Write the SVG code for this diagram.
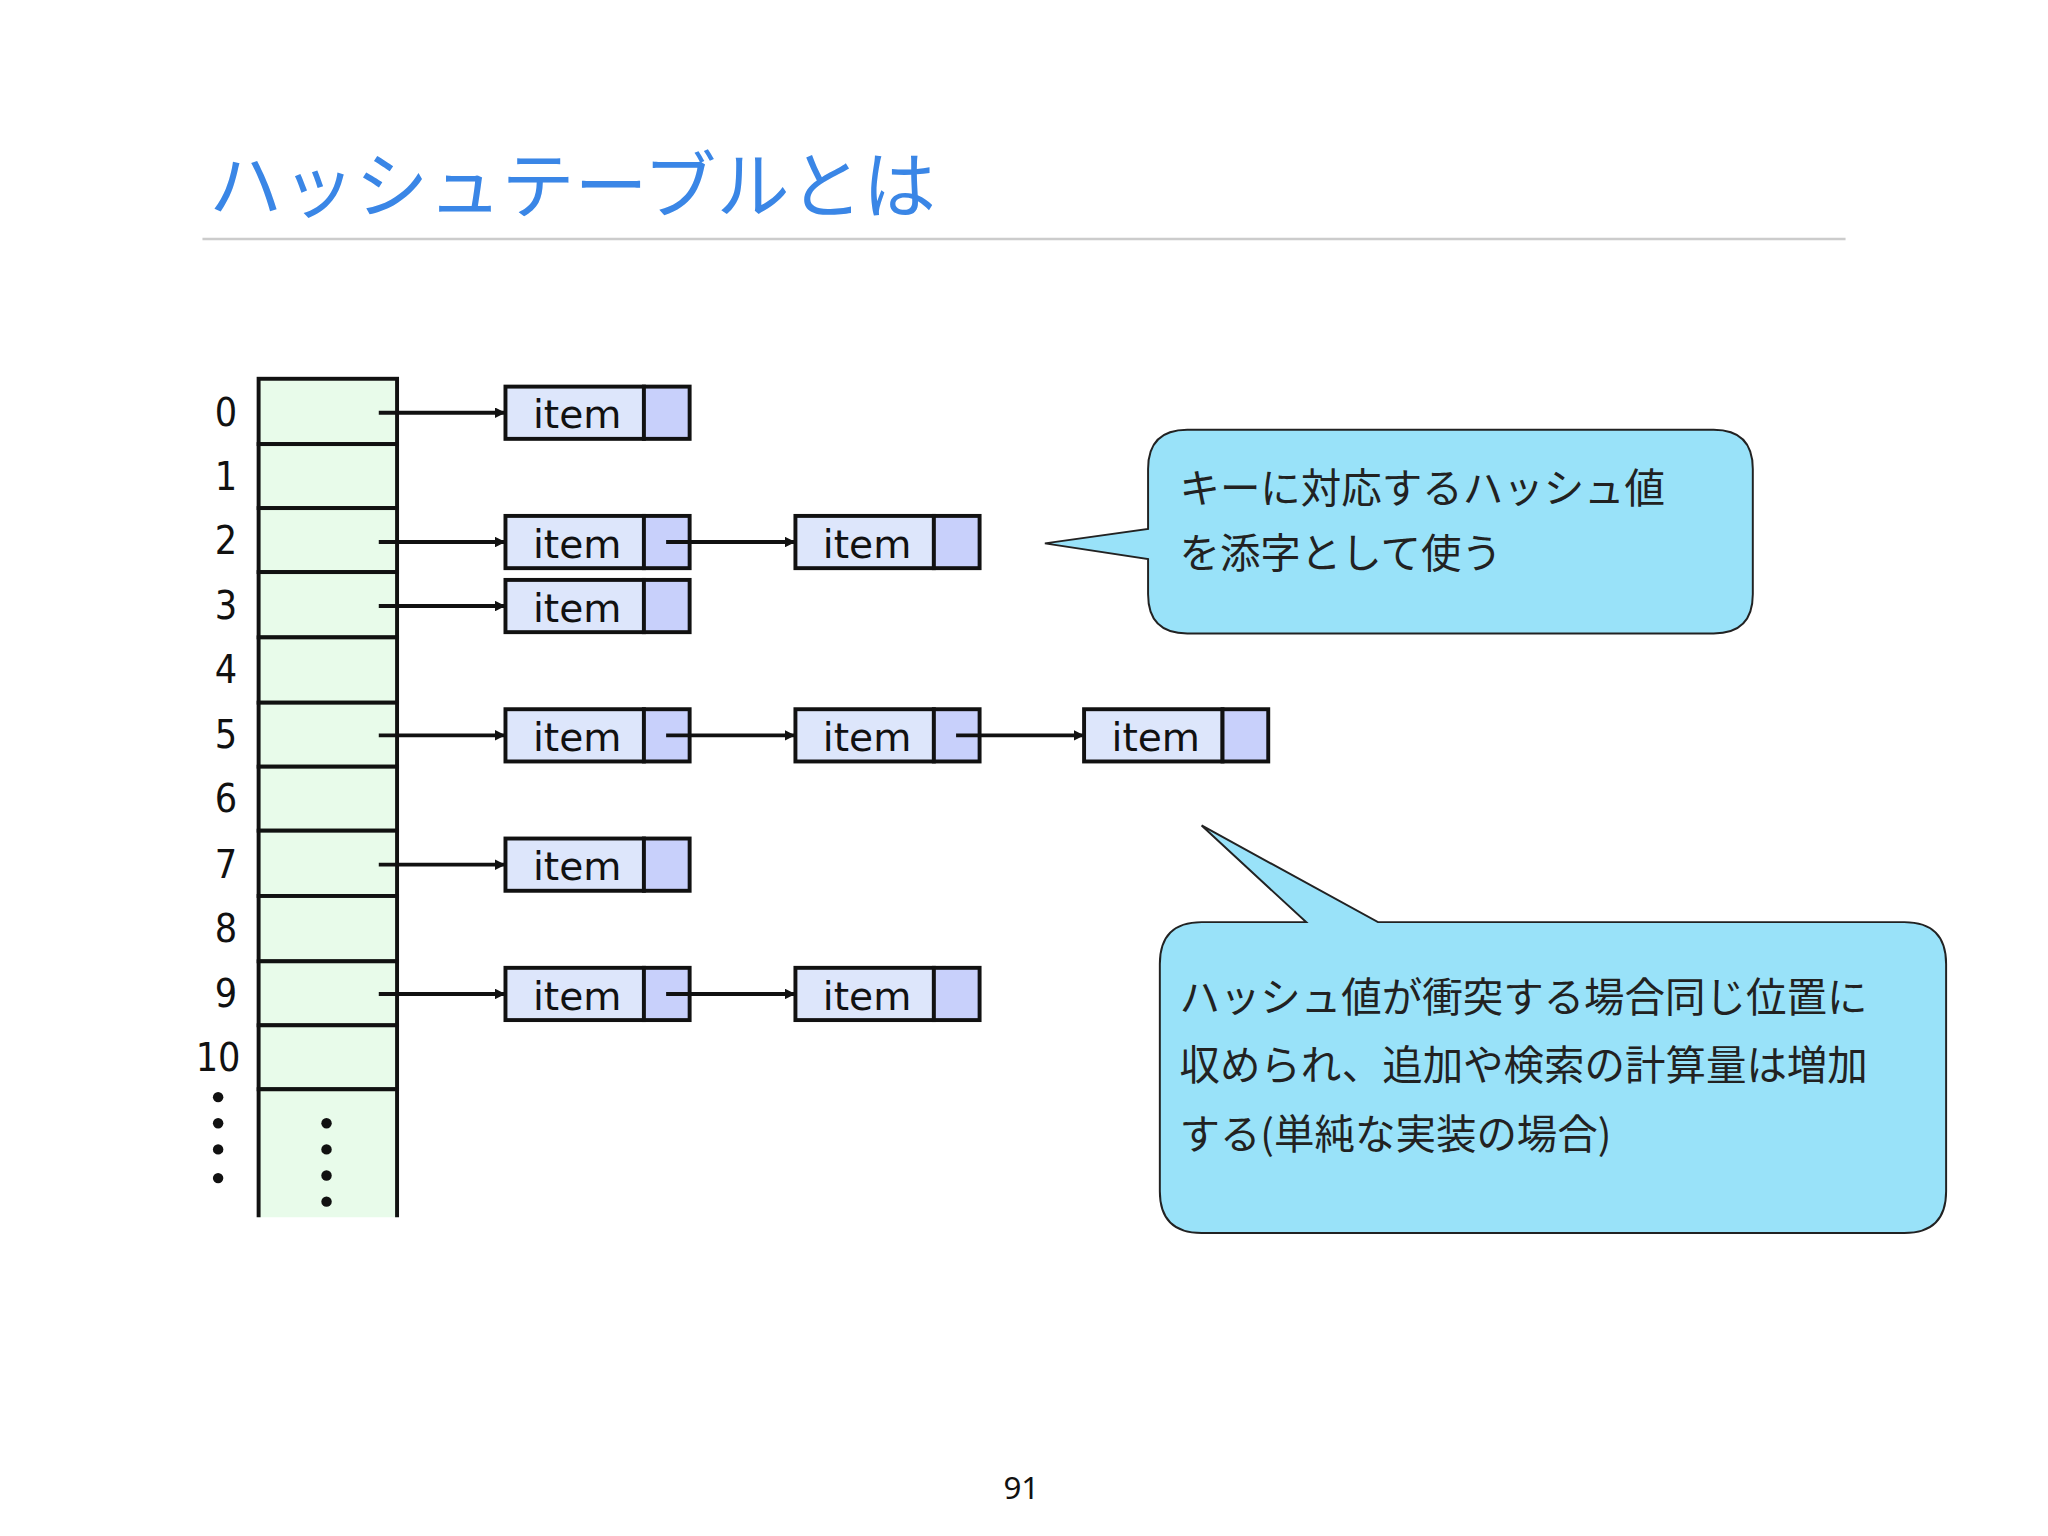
<svg xmlns="http://www.w3.org/2000/svg" width="2048" height="1536" viewBox="0 0 2048 1536">
<defs>
<marker id="ah" markerWidth="8" markerHeight="8" refX="7" refY="4" orient="auto" markerUnits="userSpaceOnUse"><path d="M0,0 L8,4 L0,8 z" fill="#111"/></marker>
<style>
.cell{fill:#e8fbea;stroke:#111;stroke-width:3}
.it{fill:#dde6fb;stroke:#111;stroke-width:3}
.pt{fill:#c8d0fb;stroke:#111;stroke-width:3}
.itx{font-family:"DejaVu Sans",sans-serif;font-size:30px;fill:#111}
.num{font-family:"DejaVu Sans Condensed","DejaVu Sans",sans-serif;font-size:30px;fill:#111;text-anchor:middle}
.con{stroke:#111;stroke-width:3;fill:none;marker-end:url(#ah)}
.cj{font-family:"Noto Sans CJK JP",sans-serif;font-size:31px;fill:#222}
.bub{fill:#99e2f9;stroke:#222;stroke-width:1.5}
</style>
</defs>
<rect width="2048" height="1536" fill="#fff"/>
<g transform="scale(1.30612)">
<text x="160" y="162" font-family="Noto Sans CJK JP,sans-serif" font-size="56" fill="#3a86e6">ハッシュテーブルとは</text>
<line x1="155" y1="183" x2="1413" y2="183" stroke="#ccc" stroke-width="2"/>
<g id="table">
<rect class="cell" x="198" y="290" width="106" height="50"/>
<rect class="cell" x="198" y="340" width="106" height="49"/>
<rect class="cell" x="198" y="389" width="106" height="49"/>
<rect class="cell" x="198" y="438" width="106" height="50"/>
<rect class="cell" x="198" y="488" width="106" height="50"/>
<rect class="cell" x="198" y="538" width="106" height="49"/>
<rect class="cell" x="198" y="587" width="106" height="49"/>
<rect class="cell" x="198" y="636" width="106" height="50"/>
<rect class="cell" x="198" y="686" width="106" height="50"/>
<rect class="cell" x="198" y="736" width="106" height="49"/>
<rect class="cell" x="198" y="785" width="106" height="49"/>
<path d="M198,932 V834 H304 V932" fill="#e8fbea" stroke="#111" stroke-width="3"/>
<g fill="#111"><circle cx="250" cy="860" r="4"/><circle cx="250" cy="880" r="4"/><circle cx="250" cy="900" r="4"/><circle cx="250" cy="920" r="4"/>
<circle cx="167" cy="840" r="4"/><circle cx="167" cy="860" r="4"/><circle cx="167" cy="880" r="4"/><circle cx="167" cy="902" r="4"/></g>
<text class="num" x="173" y="326">0</text><text class="num" x="173" y="375">1</text><text class="num" x="173" y="424">2</text><text class="num" x="173" y="474">3</text><text class="num" x="173" y="523">4</text><text class="num" x="173" y="573">5</text><text class="num" x="173" y="622">6</text><text class="num" x="173" y="672">7</text><text class="num" x="173" y="721">8</text><text class="num" x="173" y="771">9</text><text class="num" x="167" y="820">10</text>
</g>
<g id="items">
<g><rect class="it" x="387" y="296" width="106" height="40"/><rect class="pt" x="493" y="296" width="35" height="40"/><text class="itx" x="408" y="328">item</text></g>
<g><rect class="it" x="387" y="395" width="106" height="40"/><rect class="pt" x="493" y="395" width="35" height="40"/><text class="itx" x="408" y="427">item</text></g>
<g><rect class="it" x="609" y="395" width="106" height="40"/><rect class="pt" x="715" y="395" width="35" height="40"/><text class="itx" x="630" y="427">item</text></g>
<g><rect class="it" x="387" y="444" width="106" height="40"/><rect class="pt" x="493" y="444" width="35" height="40"/><text class="itx" x="408" y="476">item</text></g>
<g><rect class="it" x="387" y="543" width="106" height="40"/><rect class="pt" x="493" y="543" width="35" height="40"/><text class="itx" x="408" y="575">item</text></g>
<g><rect class="it" x="609" y="543" width="106" height="40"/><rect class="pt" x="715" y="543" width="35" height="40"/><text class="itx" x="630" y="575">item</text></g>
<g><rect class="it" x="830" y="543" width="106" height="40"/><rect class="pt" x="936" y="543" width="35" height="40"/><text class="itx" x="851" y="575">item</text></g>
<g><rect class="it" x="387" y="642" width="106" height="40"/><rect class="pt" x="493" y="642" width="35" height="40"/><text class="itx" x="408" y="674">item</text></g>
<g><rect class="it" x="387" y="741" width="106" height="40"/><rect class="pt" x="493" y="741" width="35" height="40"/><text class="itx" x="408" y="773">item</text></g>
<g><rect class="it" x="609" y="741" width="106" height="40"/><rect class="pt" x="715" y="741" width="35" height="40"/><text class="itx" x="630" y="773">item</text></g>
</g>
<g id="connectors">
<line class="con" x1="290" y1="316" x2="386" y2="316"/>
<line class="con" x1="290" y1="415" x2="386" y2="415"/>
<line class="con" x1="510" y1="415" x2="608" y2="415"/>
<line class="con" x1="290" y1="464" x2="386" y2="464"/>
<line class="con" x1="290" y1="563" x2="386" y2="563"/>
<line class="con" x1="510" y1="563" x2="608" y2="563"/>
<line class="con" x1="732" y1="563" x2="829" y2="563"/>
<line class="con" x1="290" y1="662" x2="386" y2="662"/>
<line class="con" x1="290" y1="761" x2="386" y2="761"/>
<line class="con" x1="510" y1="761" x2="608" y2="761"/>
</g>
<g id="callout1">
<path class="bub" d="M909,329 H1312 Q1342,329 1342,359 V455 Q1342,485 1312,485 H909 Q879,485 879,455 V428 L800,416 L879,405 V359 Q879,329 909,329 Z"/>
<text class="cj" x="903" y="385">キーに対応するハッシュ値</text>
<text class="cj" x="903" y="435">を添字として使う</text>
</g>
<g id="callout2">
<path class="bub" d="M920,706 H1000 L920,632 L1055,706 H1458 Q1490,706 1490,738 V912 Q1490,944 1458,944 H920 Q888,944 888,912 V738 Q888,706 920,706 Z"/>
<text class="cj" x="903" y="775">ハッシュ値が衝突する場合同じ位置に</text>
<text class="cj" x="903" y="827">収められ、追加や検索の計算量は増加</text>
<text class="cj" x="903" y="880">する(単純な実装の場合)</text>
</g>
<text x="782" y="1148" font-family="Noto Sans,sans-serif" font-size="24" fill="#111" text-anchor="middle">91</text>
</g>
</svg>
